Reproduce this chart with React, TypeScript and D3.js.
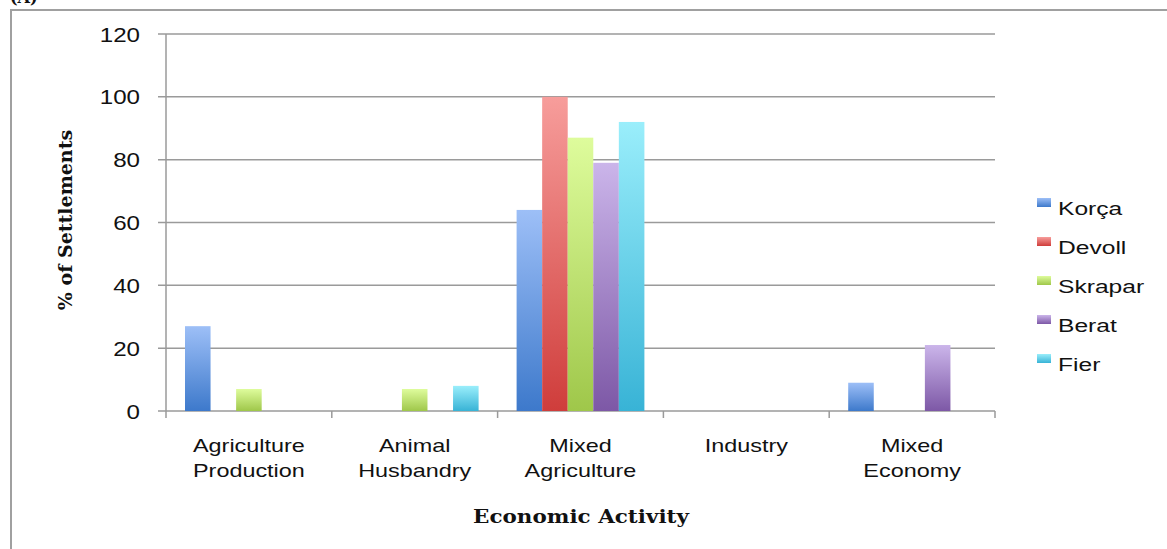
import React from "react";
import * as d3 from "d3";

const categories = ["Agriculture Production", "Animal Husbandry", "Mixed Agriculture", "Industry", "Mixed Economy"];
const categoryLines = [["Agriculture", "Production"], ["Animal", "Husbandry"], ["Mixed", "Agriculture"], ["Industry"], ["Mixed", "Economy"]];
const seriesNames = ["Korça", "Devoll", "Skrapar", "Berat", "Fier"];
const korca = [27, 0, 64, 0, 9];
const devoll = [0, 0, 100, 0, 0];
const skrapar = [7, 7, 87, 0, 0];
const berat = [0, 0, 79, 0, 21];
const fier = [0, 8, 92, 0, 0];
const seriesValues = [korca, devoll, skrapar, berat, fier];
const yTicks = [0, 20, 40, 60, 80, 100, 120];
const colorsTop = ["#9dbff7", "#f79d9b", "#defc9c", "#cbb5ea", "#9aeefb"];
const colorsBottom = ["#3d79cb", "#cf3d3b", "#9fc74a", "#7d58a6", "#38b3d6"];

const W = 1167;
const H = 549;
const sans = "'Liberation Sans', Arial, sans-serif";
const serif = "'DejaVu Serif', serif";

function SText({ x, y, sx = 1, anchor = "middle", size, family = sans, weight = "normal", children }: any) {
  return (
    <text
      transform={`translate(${x},${y}) scale(${sx},1)`}
      textAnchor={anchor}
      fontSize={size}
      fontFamily={family}
      fontWeight={weight}
      fill="#111"
    >
      {children}
    </text>
  );
}

export default function App() {
  const x = d3.scaleBand<string>().domain(categories).range([166, 995]).paddingInner(0).paddingOuter(0);
  const bw = x.bandwidth();
  const xi = d3.scaleBand<string>().domain(seriesNames).range([19, bw - 19]).padding(0);
  const y = d3.scaleLinear().domain([0, 120]).range([411, 34]);
  const grid = "#9a9a9a";

  return (
    <svg width={W} height={H} style={{ position: "absolute", left: 0, top: 0, background: "#fff" }}>
      <defs>
        {seriesNames.map((s, i) => (
          <linearGradient key={s} id={`g${i}`} x1="0" y1="0" x2="0" y2="1">
            <stop offset="0%" stopColor={colorsTop[i]} />
            <stop offset="100%" stopColor={colorsBottom[i]} />
          </linearGradient>
        ))}
      </defs>
      <rect x={0} y={0} width={W} height={H} fill="#fff" />
      <text x={10} y={3} fontSize={16} fontWeight="bold" fontFamily={serif} fill="#111">(A)</text>
      <line x1={11} y1={10} x2={W} y2={10} stroke="#a0a0a0" strokeWidth={2} />
      <line x1={11} y1={9} x2={11} y2={H} stroke="#a0a0a0" strokeWidth={2} />

      {yTicks.map((t) => (
        <g key={t}>
          <line x1={158} x2={995} y1={y(t)} y2={y(t)} stroke={grid} strokeWidth={1.5} />
          <SText x={140} y={y(t) + 7.5} anchor="end" size={21} sx={1.15}>{t}</SText>
        </g>
      ))}
      <line x1={166} x2={166} y1={y(120)} y2={y(0)} stroke={grid} strokeWidth={1.5} />
      {d3.range(categories.length + 1).map((k) => {
        const xx = 166 + k * bw;
        return <line key={k} x1={xx} x2={xx} y1={y(0)} y2={y(0) + 7} stroke={grid} strokeWidth={1.5} />;
      })}

      {categories.map((c, ci) => (
        <g key={c}>
          {seriesNames.map((s, si) => {
            const v = seriesValues[si][ci];
            if (!v) return null;
            return (
              <rect
                key={s}
                x={(x(c) as number) + (xi(s) as number)}
                y={y(v)}
                width={xi.bandwidth()}
                height={y(0) - y(v)}
                fill={`url(#g${si})`}
              />
            );
          })}
        </g>
      ))}

      {categories.map((c, ci) => (
        <g key={c + "l"}>
          {categoryLines[ci].map((ln, li) => (
            <SText key={li} x={(x(c) as number) + bw / 2} y={452 + li * 25} size={18} sx={1.3}>{ln}</SText>
          ))}
        </g>
      ))}

      <text
        transform={`translate(72,220) rotate(-90)`}
        textAnchor="middle"
        fontSize={19}
        fontFamily={serif}
        fontWeight="bold"
        fill="#111"
      >
        % of Settlements
      </text>
      <SText x={581} y={523} size={19} family={serif} weight="bold" sx={1.13}>Economic Activity</SText>

      {seriesNames.map((s, i) => (
        <g key={s}>
          <rect x={1037} y={198 + i * 39} width={14} height={9} fill={`url(#g${i})`} />
          <SText x={1058} y={215 + i * 39} anchor="start" size={18.5} sx={1.33}>{s}</SText>
        </g>
      ))}
    </svg>
  );
}
